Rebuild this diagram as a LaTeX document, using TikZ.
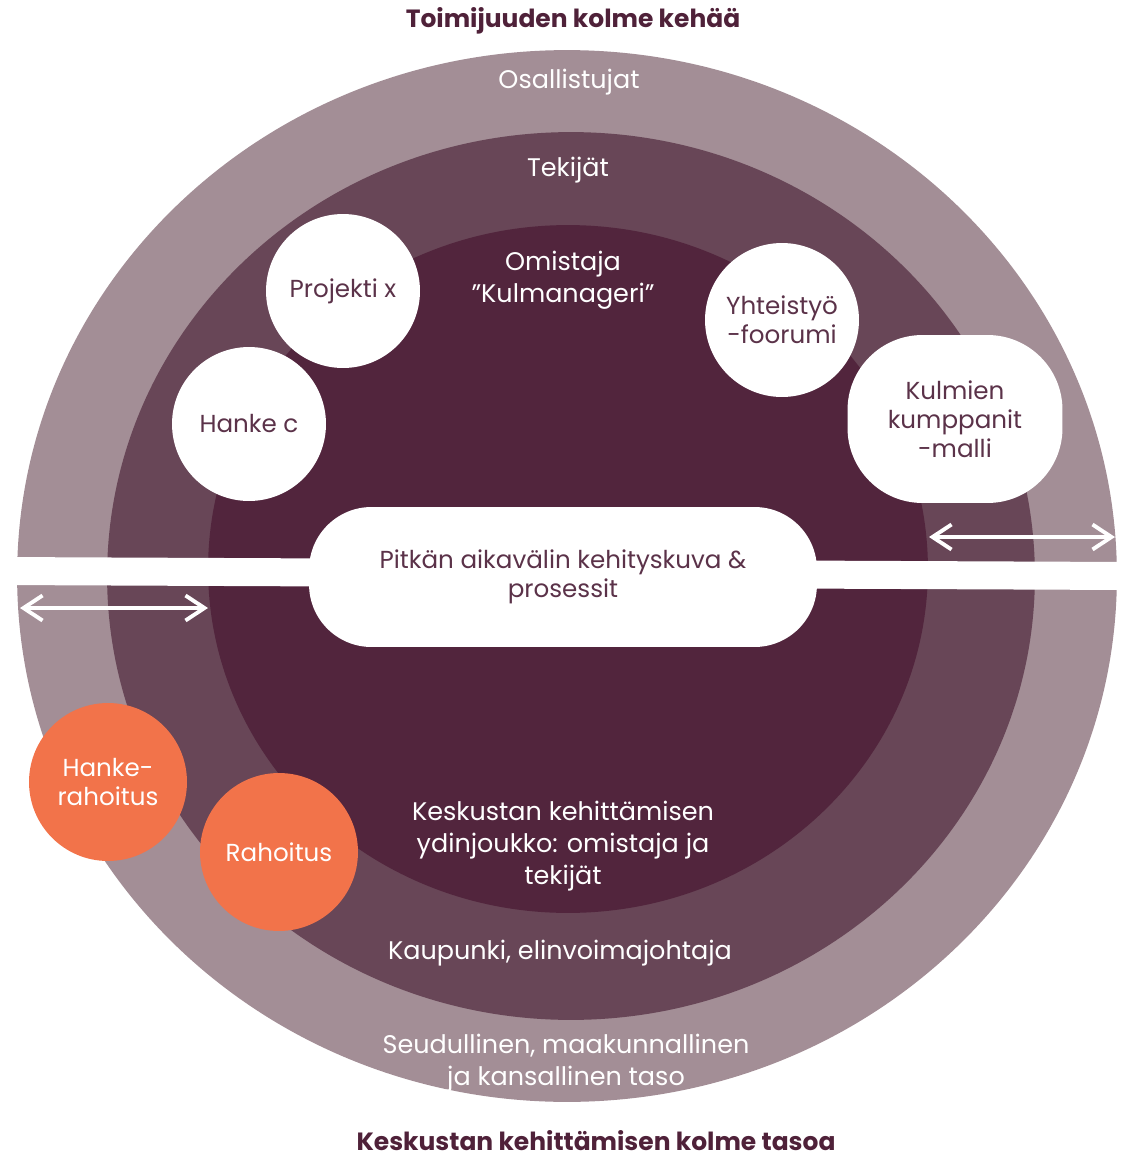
\documentclass[tikz,border=0pt]{standalone}
\usepackage{fontspec}
\setmainfont{Poppins}
\usetikzlibrary{arrows.meta}
\definecolor{ringouter}{HTML}{A38E96}
\definecolor{ringmid}{HTML}{684657}
\definecolor{ringinner}{HTML}{52253D}
\definecolor{fundorange}{HTML}{F2734A}
\definecolor{titleplum}{HTML}{4F2139}
\definecolor{bubbletext}{HTML}{5B3249}
\begin{document}
\begin{tikzpicture}[x=0.02cm,y=-0.02cm,
    bubble/.style={circle,fill=white,minimum size=3.08cm,inner sep=0pt,align=center,text=bubbletext,font=\fontsize{14}{16.5}\selectfont},
    fund/.style={circle,fill=fundorange,minimum size=3.16cm,inner sep=0pt,align=center,text=white,font=\fontsize{14}{16.5}\selectfont},
    pill/.style={rectangle,fill=white,inner sep=0pt,align=center,text=bubbletext,font=\fontsize{14}{16.5}\selectfont},
    ringlabel/.style={text=white,align=center,font=\fontsize{14.5}{18}\selectfont},
    heading/.style={text=titleplum,inner sep=0pt,font=\fontsize{14.2}{16}\selectfont\bfseries},
    twoway/.style={white,line width=2.2pt,line cap=round,{Straight Barb[length=3.8mm,width=5mm,line width=2.2pt]}-{Straight Barb[length=3.8mm,width=5mm,line width=2.2pt]}}]
  \useasboundingbox (0,0) rectangle (1128,1159);

  % rings
  \fill[ringouter] (567,576) ellipse [x radius=11cm,y radius=10.52cm];
  \fill[ringmid] (571,576) ellipse [x radius=9.28cm,y radius=8.88cm];
  \fill[ringinner] (568,569) ellipse [x radius=7.2cm,y radius=6.88cm];
  \fill[white] (0,557) -- (1128,562) -- (1128,590) -- (0,585) -- cycle;

  % headings
  \node[heading] (top) at (573,21) {Toimijuuden kolme kehää};
  \node[heading] (bottom) at (596,1141) {Keskustan kehittämisen kolme tasoa};

  % ring labels
  \node[ringlabel] (osal) at (569,82) {Osallistujat};
  \node[ringlabel] (tekijat) at (568,170) {Tekijät};
  \node[ringlabel] (omistaja) at (563,280) {Omistaja\\”Kulmanageri”};
  \node[ringlabel] (ydin) at (563,846) {Keskustan kehittämisen\\ydinjoukko: omistaja ja\\tekijät};
  \node[ringlabel] (kaupunki) at (560,953) {Kaupunki, elinvoimajohtaja};
  \node[ringlabel] (seutu) at (566,1063) {Seudullinen, maakunnallinen\\ja kansallinen taso};

  % bubbles
  \node[bubble] (projekti) at (343,291) {Projekti x};
  \node[bubble] (hanke) at (249,424) {Hanke c};
  \node[bubble] (foorumi) at (782,320) {Yhteistyö\\-foorumi};
  \node[pill,minimum width=4.3cm,minimum height=3.36cm,rounded corners=1.5cm] (kulmat) at (955,419) {Kulmien\\kumppanit\\-malli};
  \node[pill,minimum width=10.16cm,minimum height=2.8cm,rounded corners=1.25cm] (kuva) at (563,577) {Pitkän aikavälin kehityskuva \&\\prosessit};

  % funding
  \node[fund] (hankeraha) at (108,782) {Hanke-\\rahoitus};
  \node[fund] (raha) at (279,852) {Rahoitus};

  % arrows
  \coordinate (upl) at (929,537);
  \coordinate (upr) at (1115,537);
  \coordinate (lowl) at (20,608);
  \coordinate (lowr) at (208,608);
  \draw[twoway] (upl) -- (upr);
  \draw[twoway] (lowl) -- (lowr);
\end{tikzpicture}
\end{document}
